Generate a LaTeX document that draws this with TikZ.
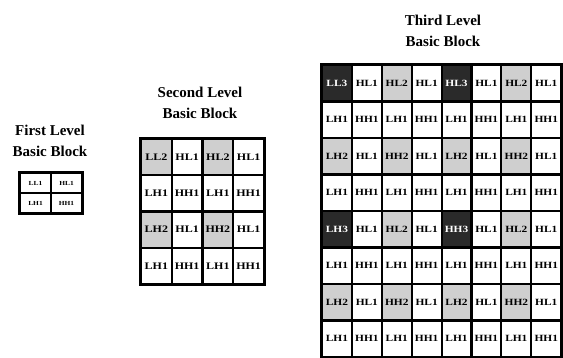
\documentclass[tikz,border=0pt]{standalone}
\usepackage{fontspec}
\setmainfont{Liberation Serif}
\newfontfamily\cellfont{Liberation Serif}[FakeStretch=1.2]
\definecolor{cgray}{HTML}{CFCFCF}
\definecolor{cdark}{HTML}{2A2A2A}
\begin{document}
\begin{tikzpicture}[x=1pt,y=-1pt,
  title/.style={align=center,font=\bfseries\fontsize{15}{20.5}\selectfont,inner sep=0pt},
  cellbase/.style={draw=black,line width=2.1pt,inner sep=0pt,font=\cellfont\bfseries\fontsize{9.5}{10}\selectfont},
  wh/.style={cellbase,fill=white},
  gr/.style={cellbase,fill=cgray},
  dk/.style={cellbase,fill=cdark,text=white},
  frame/.style={draw=black,line width=2.8pt}]
\useasboundingbox (0,0) rectangle (563,358);
% ---------- first level ----------
\node[title] (t1) at (50,141) {First Level\\Basic Block};
\def\xo{20}\def\yo{173}\def\cw{31}\def\ch{20}
\foreach \lab/\sty [count=\c] in {LL1/wh,HL1/wh}
  \node[\sty,minimum width=\cw pt,minimum height=\ch pt,font=\cellfont\bfseries\fontsize{6.2}{7}\selectfont] (a-1-\c) at ({\xo+(\c-0.5)*\cw},{\yo+0.5*\ch}) {\lab};
\foreach \lab/\sty [count=\c] in {LH1/wh,HH1/wh}
  \node[\sty,minimum width=\cw pt,minimum height=\ch pt,font=\cellfont\bfseries\fontsize{6.2}{7}\selectfont] (a-2-\c) at ({\xo+(\c-0.5)*\cw},{\yo+1.5*\ch}) {\lab};
\draw[frame] (a-1-1.north west) rectangle (a-2-2.south east);
% ---------- second level ----------
\node[title] (t2) at (200,103) {Second Level\\Basic Block};
\def\xo{141}\def\yo{139}\def\cw{30.75}\def\ch{36.25}
\foreach \r/\row in {1/{LL2/gr,HL1/wh,HL2/gr,HL1/wh},2/{LH1/wh,HH1/wh,LH1/wh,HH1/wh},3/{LH2/gr,HL1/wh,HH2/gr,HL1/wh},4/{LH1/wh,HH1/wh,LH1/wh,HH1/wh}}
  \foreach \lab/\sty [count=\c] in \row
    \node[\sty,minimum width=\cw pt,minimum height=\ch pt,font=\cellfont\bfseries\fontsize{10}{11}\selectfont] (b-\r-\c) at ({\xo+(\c-0.5)*\cw},{\yo+(\r-0.5)*\ch}) {\lab};
\draw[frame] (b-1-1.north west) rectangle (b-4-4.south east);
% ---------- third level ----------
\node[title] (t3) at (443,31) {Third Level\\Basic Block};
\def\xo{322}\def\yo{65}\def\cw{29.9}\def\ch{36.5}
\foreach \r/\row in {
  1/{LL3/dk,HL1/wh,HL2/gr,HL1/wh,HL3/dk,HL1/wh,HL2/gr,HL1/wh},
  2/{LH1/wh,HH1/wh,LH1/wh,HH1/wh,LH1/wh,HH1/wh,LH1/wh,HH1/wh},
  3/{LH2/gr,HL1/wh,HH2/gr,HL1/wh,LH2/gr,HL1/wh,HH2/gr,HL1/wh},
  4/{LH1/wh,HH1/wh,LH1/wh,HH1/wh,LH1/wh,HH1/wh,LH1/wh,HH1/wh},
  5/{LH3/dk,HL1/wh,HL2/gr,HL1/wh,HH3/dk,HL1/wh,HL2/gr,HL1/wh},
  6/{LH1/wh,HH1/wh,LH1/wh,HH1/wh,LH1/wh,HH1/wh,LH1/wh,HH1/wh},
  7/{LH2/gr,HL1/wh,HH2/gr,HL1/wh,LH2/gr,HL1/wh,HH2/gr,HL1/wh},
  8/{LH1/wh,HH1/wh,LH1/wh,HH1/wh,LH1/wh,HH1/wh,LH1/wh,HH1/wh}}
  \foreach \lab/\sty [count=\c] in \row
    \node[\sty,minimum width=\cw pt,minimum height=\ch pt] (c-\r-\c) at ({\xo+(\c-0.5)*\cw},{\yo+(\r-0.5)*\ch}) {\lab};
\draw[frame] (c-1-1.north west) rectangle (c-8-8.south east);
\end{tikzpicture}
\end{document}
